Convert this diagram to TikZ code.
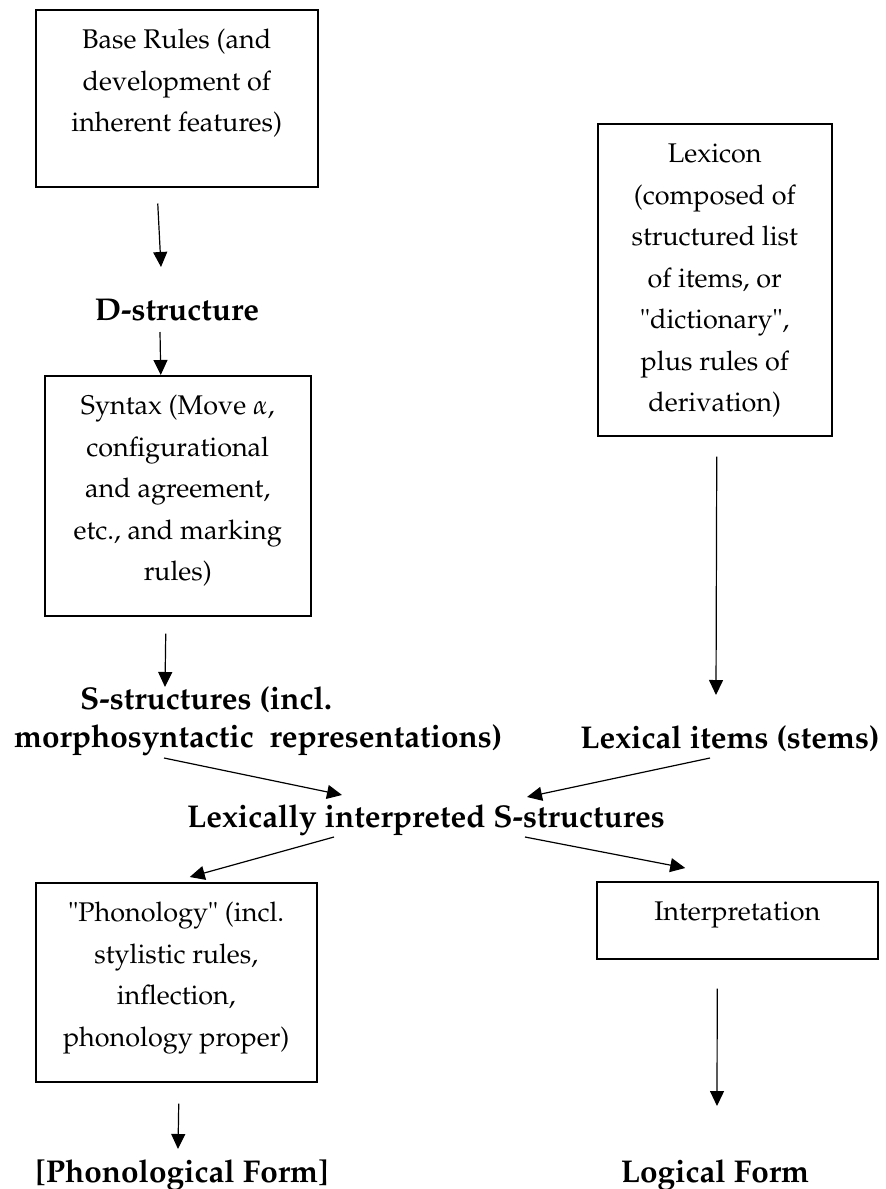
\documentclass[tikz,border=0pt]{standalone}
\usepackage[T1]{fontenc}
\usepackage{mathpazo}
\usetikzlibrary{arrows.meta,calc}
\newcommand{\bxt}[3]{\parbox[c][#2][t]{#1}{\fontsize{27}{41.5}\selectfont\centering\rule{0pt}{39pt}#3\par}}
\tikzset{
  boxnode/.style={draw, line width=1.5pt, inner sep=0pt, anchor=north west},
  boldlbl/.style={font=\fontsize{31.5}{38}\selectfont\bfseries, inner sep=0pt, anchor=base},
  arr/.style={-{Triangle[length=15pt,width=14pt]}, line width=1.2pt},
}
\begin{document}
\begin{tikzpicture}[x=1pt,y=-1pt]
\useasboundingbox (0,0) rectangle (886,1189);
% boxes
\node[boxnode] (base) at (35,9) {\bxt{282pt}{177pt}{Base Rules (and\\development of\\inherent features)}};
\node[boxnode] (lexicon) at (597,123) {\bxt{234pt}{312pt}{Lexicon\\(composed of\\structured list\\of items, or\\\textquotedbl dictionary\textquotedbl,\\plus rules of\\derivation)}};
\node[boxnode] (syntax) at (44,375) {\bxt{266pt}{240pt}{Syntax (Move $\alpha$,\\configurational\\and agreement,\\etc., and marking\\rules)}};
\node[boxnode] (phon) at (35,882) {\bxt{281pt}{199pt}{\textquotedbl Phonology\textquotedbl\ (incl.\\stylistic rules,\\inflection,\\phonology proper)}};
\node[boxnode] (interp) at (596,881) {\bxt{281pt}{77pt}{Interpretation}};
% bold labels
\node[boldlbl] (dstr) at (177,320) {D-structure};
\node[boldlbl, anchor=base west] (ss1) at (80,709) {S-structures (incl.};
\node[boldlbl, anchor=base west] (ss2) at (14,747) {morphosyntactic\ \ representations)};
\node[boldlbl] (lexi) at (730,748) {Lexical items (stems)};
\node[boldlbl] (lis) at (426,827) {Lexically interpreted S-structures};
\node[boldlbl] (pf) at (182,1182) {[Phonological Form]};
\node[boldlbl] (lf) at (715,1182) {Logical Form};
% arrows
\draw[arr] ($(base.south)+(-19,16)$) -- ($(dstr.base)+(-16,-53)$);
\draw[arr] ($(dstr.base)+(-17,12)$) -- ($(syntax.north)+(-17,0)$);
\draw[arr] ($(syntax.south)+(-12,17)$) -- ($(ss1.base west)+(85,-22)$);
\draw[arr] ($(lexicon.south)+(2,20)$) -- ($(lexi.base)+(-14,-53)$);
\draw[arr] ($(ss2.base west)+(150,11)$) -- ($(lis.base)+(-84,-32)$);
\draw[arr] ($(lexi.base)+(-20,10)$) -- ($(lis.base)+(101,-30)$);
\draw[arr] ($(lis.base)+(-92,10)$) -- ($(phon.north)+(13.5,-5)$);
\draw[arr] ($(lis.base)+(99,10)$) -- ($(interp.north)+(-52,-13)$);
\draw[arr] ($(phon.south)+(2.5,21)$) -- ($(pf.base)+(-4,-33)$);
\draw[arr] ($(interp.south)+(-20,29)$) -- ($(lf.base)+(2,-76)$);
\end{tikzpicture}
\end{document}
